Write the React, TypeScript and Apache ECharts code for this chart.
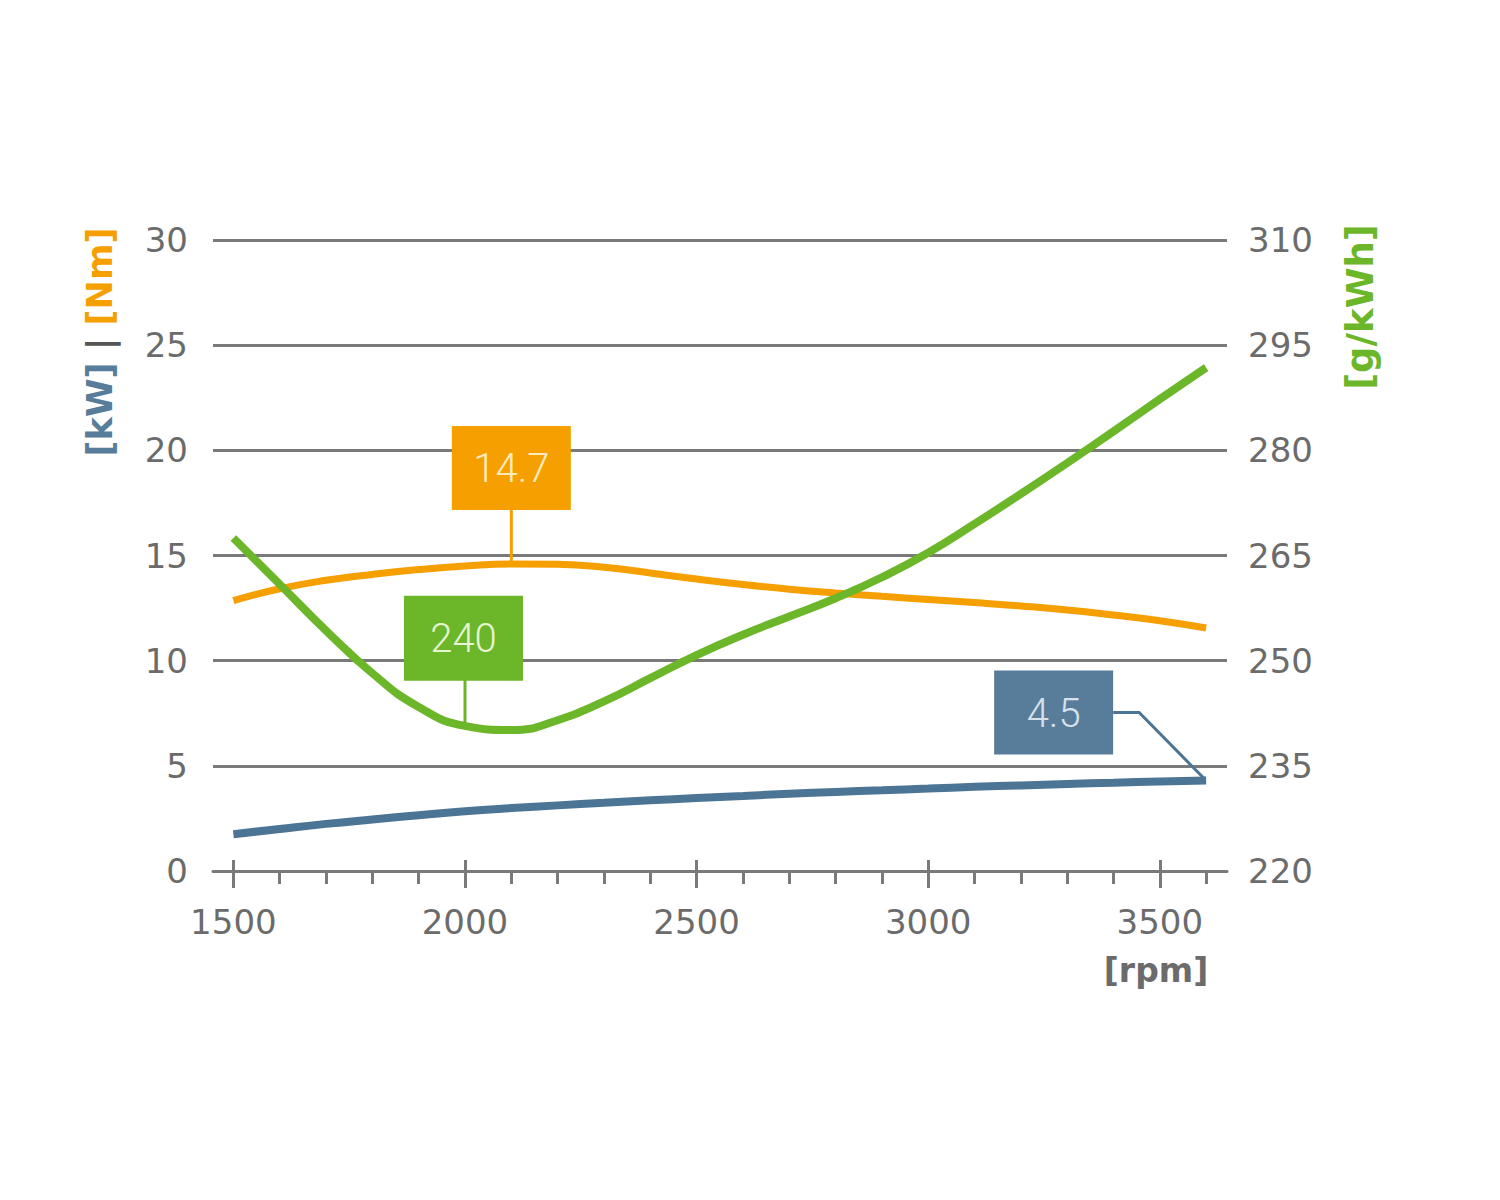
import React, { useEffect, useRef } from "react";
import * as echarts from "echarts";

// ---- data ----
const rpm = [1500, 1600, 1700, 1800, 1900, 2000, 2100, 2200, 2300, 2400, 2500, 2600, 2700, 2800, 2900, 3000, 3100, 3200, 3300, 3400, 3500, 3600];
const torqueNm = [12.85, 13.42, 13.82, 14.1, 14.33, 14.5, 14.6, 14.58, 14.44, 14.17, 13.88, 13.62, 13.4, 13.22, 13.06, 12.91, 12.76, 12.6, 12.41, 12.17, 11.9, 11.55];
const powerKw = [1.75, 2.0, 2.24, 2.45, 2.65, 2.84, 2.99, 3.12, 3.24, 3.36, 3.47, 3.57, 3.67, 3.76, 3.84, 3.92, 4.0, 4.07, 4.14, 4.2, 4.26, 4.3];
const consumption = [267.5, 260.9, 254.3, 248.2, 243.4, 240.7, 240.1, 241.5, 244.2, 247.5, 250.8, 253.7, 256.3, 258.9, 261.9, 265.4, 269.5, 273.8, 278.2, 282.7, 287.3, 291.8];

const xMajorTicks = [1500, 2000, 2500, 3000, 3500];
const xMinorTicks = [1600, 1700, 1800, 1900, 2100, 2200, 2300, 2400, 2600, 2700, 2800, 2900, 3100, 3200, 3300, 3400, 3600];

const torqueCallout = { rpm: 2100, value: 14.6, label: "14.7" };
const consumptionCallout = { rpm: 2000, value: 240.7, label: "240" };
const powerCallout = { rpm: 3600, value: 4.3, label: "4.5" };

const ORANGE = "#F5A000";
const GREEN = "#6CB62A";
const BLUE = "#4C7595";
const BLUE_BOX = "#587D9A";
const GREY = "#6b6b6b";
const GRID = "#7a7a7a";
const FONT = "'DejaVu Sans', sans-serif";

export default function App() {
  const ref = useRef<HTMLDivElement>(null);

  useEffect(() => {
    if (!ref.current) return;
    const chart = echarts.init(ref.current, null, { renderer: "svg" });
    const pairs = (vals: number[]) => rpm.map((r, i) => [r, vals[i]]);

    const baseX = {
      type: "value",
      min: 1456,
      max: 3645,
      position: "bottom",
      splitLine: { show: false },
    };

    chart.setOption({
      animation: false,
      grid: { left: 213, right: 273, top: 240, bottom: 329, containLabel: false },
      xAxis: [
        {
          ...baseX,
          axisLine: { show: true, lineStyle: { color: GRID, width: 3 } },
          axisTick: { show: true, customValues: xMajorTicks, length: 17, lineStyle: { color: GRID, width: 3 } },
          axisLabel: {
            show: true,
            customValues: xMajorTicks,
            formatter: (v: number) => String(v),
            color: GREY,
            fontSize: 34,
            fontFamily: FONT,
            margin: 34,
          },
        },
        {
          ...baseX,
          axisLine: { show: false },
          axisTick: { show: true, inside: true, customValues: xMajorTicks, length: 11, lineStyle: { color: GRID, width: 3 } },
          axisLabel: { show: false },
        },
        {
          ...baseX,
          axisLine: { show: false },
          axisTick: { show: true, customValues: xMinorTicks, length: 13, lineStyle: { color: GRID, width: 3 } },
          axisLabel: { show: false },
        },
      ],
      yAxis: [
        {
          type: "value",
          min: 0,
          max: 30,
          interval: 5,
          position: "left",
          axisLine: { show: false },
          axisTick: { show: false },
          axisLabel: { color: GREY, fontSize: 34, fontFamily: FONT, margin: 25 },
          splitLine: { show: true, lineStyle: { color: GRID, width: 3 } },
        },
        {
          type: "value",
          min: 220,
          max: 310,
          interval: 15,
          position: "right",
          axisLine: { show: false },
          axisTick: { show: false },
          axisLabel: { color: GREY, fontSize: 34, fontFamily: FONT, margin: 21 },
          splitLine: { show: false },
        },
      ],
      series: [
        {
          name: "Torque [Nm]",
          type: "line",
          xAxisIndex: 0,
          yAxisIndex: 0,
          data: pairs(torqueNm),
          smooth: 0.5,
          showSymbol: false,
          lineStyle: { color: ORANGE, width: 7 },
        },
        {
          name: "Power [kW]",
          type: "line",
          xAxisIndex: 0,
          yAxisIndex: 0,
          data: pairs(powerKw),
          smooth: 0.5,
          showSymbol: false,
          lineStyle: { color: BLUE, width: 8 },
        },
        {
          name: "Consumption [g/kWh]",
          type: "line",
          xAxisIndex: 0,
          yAxisIndex: 1,
          data: pairs(consumption),
          smooth: 0.5,
          showSymbol: false,
          lineStyle: { color: GREEN, width: 8 },
        },
      ],
    });

    const pO = chart.convertToPixel({ xAxisIndex: 0, yAxisIndex: 0 }, [torqueCallout.rpm, torqueCallout.value]) as number[];
    const pG = chart.convertToPixel({ xAxisIndex: 0, yAxisIndex: 1 }, [consumptionCallout.rpm, consumptionCallout.value]) as number[];
    const pB = chart.convertToPixel({ xAxisIndex: 0, yAxisIndex: 0 }, [powerCallout.rpm, powerCallout.value]) as number[];

    const boxW = 119;
    const boxH = 84;
    const boxText = (cx: number, cy: number, text: string, color: string) => ({
      type: "text",
      x: cx,
      y: cy,
      z: 20,
      style: {
        text,
        fill: color,
        font: `300 40px Roboto, sans-serif`,
        align: "center",
        verticalAlign: "middle",
      },
    });

    const oBoxX = pO[0] - boxW / 2;
    const oBoxY = pO[1] - 54 - boxH;
    const gBoxX = pG[0] - 61;
    const gBoxY = pG[1] - 46 - boxH;
    const bRight = pB[0] - 93;
    const bMidY = pB[1] - 68;
    const bBoxX = bRight - boxW;
    const bBoxY = bMidY - boxH / 2;

    chart.setOption({
      graphic: [
        { type: "line", z: 15, shape: { x1: pO[0], y1: oBoxY + boxH, x2: pO[0], y2: pO[1] }, style: { stroke: ORANGE, lineWidth: 3 } },
        { type: "rect", z: 15, shape: { x: oBoxX, y: oBoxY, width: boxW, height: boxH }, style: { fill: ORANGE } },
        boxText(oBoxX + boxW / 2, oBoxY + boxH / 2 + 1, torqueCallout.label, "#FDEBBE"),

        { type: "line", z: 15, shape: { x1: pG[0], y1: gBoxY + boxH, x2: pG[0], y2: pG[1] }, style: { stroke: GREEN, lineWidth: 3 } },
        { type: "rect", z: 15, shape: { x: gBoxX, y: gBoxY, width: boxW, height: boxH + 1 }, style: { fill: GREEN } },
        boxText(gBoxX + boxW / 2, gBoxY + boxH / 2 + 1, consumptionCallout.label, "#E6F4D2"),

        {
          type: "polyline",
          z: 15,
          shape: { points: [[bRight, bMidY], [bRight + 26, bMidY], [pB[0] - 2, pB[1] - 2]] },
          style: { stroke: BLUE, lineWidth: 3, fill: null },
        },
        { type: "rect", z: 15, shape: { x: bBoxX, y: bBoxY, width: boxW, height: boxH }, style: { fill: BLUE_BOX } },
        boxText(bBoxX + boxW / 2, bBoxY + boxH / 2 + 1, powerCallout.label, "#D6E1EA"),

        {
          type: "text",
          x: 100,
          y: 342,
          rotation: Math.PI / 2,
          z: 20,
          style: {
            text: "{a|[kW]}{b| | }{c|[Nm]}",
            align: "center",
            verticalAlign: "middle",
            rich: {
              a: { fill: BLUE_BOX, fontSize: 35, fontWeight: "bold", fontFamily: FONT },
              b: { fill: "#555555", fontSize: 35, fontWeight: "bold", fontFamily: FONT },
              c: { fill: ORANGE, fontSize: 35, fontWeight: "bold", fontFamily: FONT },
            },
          },
        },
        {
          type: "text",
          x: 1360,
          y: 307,
          rotation: Math.PI / 2,
          z: 20,
          style: {
            text: "[g/kWh]",
            fill: GREEN,
            font: `bold 37px ${FONT}`,
            align: "center",
            verticalAlign: "middle",
          },
        },
        {
          type: "text",
          x: 1156,
          y: 970,
          z: 20,
          style: {
            text: "[rpm]",
            fill: GREY,
            font: `bold 33px ${FONT}`,
            align: "center",
            verticalAlign: "middle",
          },
        },
      ],
    });

    return () => chart.dispose();
  }, []);

  return <div ref={ref} style={{ position: "fixed", left: 0, top: 0, width: 1500, height: 1200, background: "#fff" }} />;
}
